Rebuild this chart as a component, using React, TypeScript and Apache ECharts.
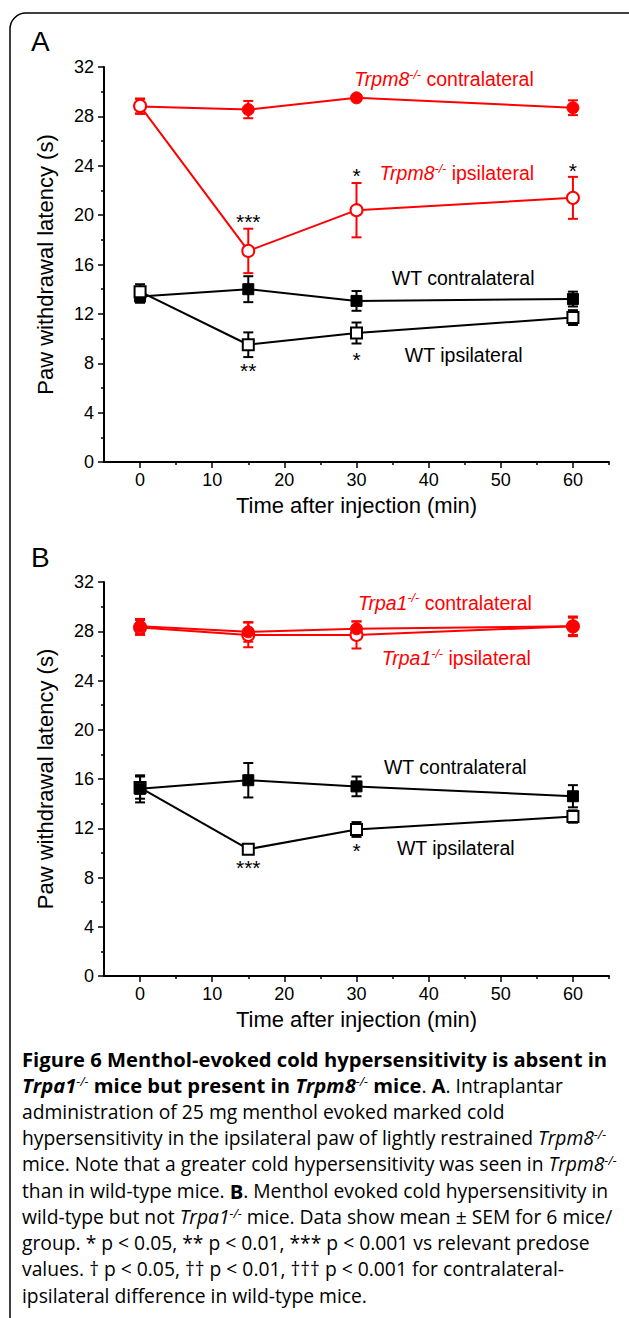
import React, { useEffect, useRef } from "react";
import * as echarts from "echarts";

// ---------- data ----------
const timePoints = [0, 15, 30, 60];

// Panel A (Trpm8-/- vs WT)
const aTrpm8Contra = [28.8, 28.55, 29.5, 28.7];
const aTrpm8ContraErr = [0.6, 0.7, 0.2, 0.6];
const aTrpm8Ipsi = [28.85, 17.1, 20.4, 21.4];
const aTrpm8IpsiErr = [0.6, 1.8, 2.2, 1.7];
const aWtContra = [13.4, 14.0, 13.05, 13.2];
const aWtContraErr = [0.5, 1.05, 0.8, 0.6];
const aWtIpsi = [13.8, 9.5, 10.45, 11.7];
const aWtIpsiErr = [0.6, 1.0, 0.85, 0.6];

// Panel B (Trpa1-/- vs WT)
const bTrpa1Contra = [28.4, 27.95, 28.2, 28.4];
const bTrpa1ContraErr = [0.6, 0.8, 0.6, 0.8];
const bTrpa1Ipsi = [28.3, 27.7, 27.7, 28.4];
const bTrpa1IpsiErr = [0.6, 1.0, 1.1, 0.7];
const bWtContra = [15.2, 15.9, 15.4, 14.6];
const bWtContraErr = [1.1, 1.4, 0.8, 0.9];
const bWtIpsi = [15.3, 10.3, 11.9, 12.95];
const bWtIpsiErr = [0.9, 0.3, 0.6, 0.5];

// axis ticks
const xMajorTicks = [0, 10, 20, 30, 40, 50, 60];
const xMinorTicks = [5, 15, 25, 35, 45, 55, 65];
const yTickLabels = [0, 4, 8, 12, 16, 20, 24, 28, 32];

// significance marks [time, value, text]
const aStars: [number, number, string][] = [
  [15, 19.5, "***"],
  [30, 23.2, "*"],
  [60, 23.6, "*"],
  [15, 7.4, "**"],
  [30, 8.3, "*"],
];
const bStars: [number, number, string][] = [
  [15, 8.8, "***"],
  [30, 10.2, "*"],
];

// series labels [time, value, rich text, colourKey]
const aLabels: [number, number, string, string][] = [
  [29.7, 31.0, "{i|Trpm8}{s|-/-}{n| contralateral}", "red"],
  [33.2, 23.4, "{i|Trpm8}{s|-/-}{n| ipsilateral}", "red"],
  [34.9, 14.9, "{n|WT contralateral}", "black"],
  [36.7, 8.7, "{n|WT ipsilateral}", "black"],
];
const bLabels: [number, number, string, string][] = [
  [30.2, 30.3, "{i|Trpa1}{s|-/-}{n| contralateral}", "red"],
  [33.5, 25.8, "{i|Trpa1}{s|-/-}{n| ipsilateral}", "red"],
  [33.8, 17.0, "{n|WT contralateral}", "black"],
  [35.6, 10.4, "{n|WT ipsilateral}", "black"],
];

const captionLines = [
  "{b|Figure 6 Menthol-evoked cold hypersensitivity is absent in}",
  "{bi|Trpa1}{s|-/-}{b| mice but present in }{bi|Trpm8}{s|-/-}{b| mice}{n|. }{b|A}{n|. Intraplantar}",
  "{n|administration of 25 mg menthol evoked marked cold}",
  "{n|hypersensitivity in the ipsilateral paw of lightly restrained }{i|Trpm8}{s|-/-}",
  "{n|mice. Note that a greater cold hypersensitivity was seen in }{i|Trpm8}{s|-/-}",
  "{n|than in wild-type mice. }{b|B}{n|. Menthol evoked cold hypersensitivity in}",
  "{n|wild-type but not }{i|Trpa1}{s|-/-}{n| mice. Data show mean ± SEM for 6 mice/}",
  "{n|group. * p < 0.05, ** p < 0.01, *** p < 0.001 vs relevant predose}",
  "{n|values. † p < 0.05, †† p < 0.01, ††† p < 0.001 for contralateral-}",
  "{n|ipsilateral difference in wild-type mice.}",
];

// ---------- styles ----------
const RED = "#ff0000";
const BLACK = "#000000";
const FONT = "'Liberation Sans', Arial, sans-serif";
const CAP_FONT = "'Open Sans', 'Noto Sans', sans-serif";
const COLORS: Record<string, string> = { red: RED, black: BLACK };

const GRIDS = [
  { left: 104, top: 67, width: 505, height: 395 },
  { left: 104, top: 582, width: 505, height: 394 },
];

function pairs(vals: number[]) {
  return timePoints.map((t, i) => [t, vals[i]]);
}
function errTriples(vals: number[], errs: number[]) {
  return timePoints.map((t, i) => [t, vals[i], errs[i]]);
}

function errorSeries(gi: number, vals: number[], errs: number[], color: string) {
  return {
    type: "custom",
    xAxisIndex: gi * 2,
    yAxisIndex: gi,
    z: 1,
    clip: false,
    data: errTriples(vals, errs),
    renderItem: (params: any, api: any) => {
      const x = api.value(0);
      const y = api.value(1);
      const e = api.value(2);
      const top = api.coord([x, y + e]);
      const bot = api.coord([x, y - e]);
      const hw = 5;
      const st = { stroke: color, lineWidth: 2 };
      return {
        type: "group",
        children: [
          { type: "line", shape: { x1: top[0], y1: top[1], x2: bot[0], y2: bot[1] }, style: st },
          { type: "line", shape: { x1: top[0] - hw, y1: top[1], x2: top[0] + hw, y2: top[1] }, style: st },
          { type: "line", shape: { x1: bot[0] - hw, y1: bot[1], x2: bot[0] + hw, y2: bot[1] }, style: st },
        ],
      };
    },
  };
}

function lineSeries(gi: number, vals: number[], color: string, symbol: string, filled: boolean, z: number) {
  return {
    type: "line",
    xAxisIndex: gi * 2,
    yAxisIndex: gi,
    z,
    clip: false,
    data: pairs(vals),
    symbol,
    symbolSize: symbol === "circle" ? 12 : 11,
    showAllSymbol: true,
    lineStyle: { color, width: 2 },
    itemStyle: {
      color: filled ? color : "#ffffff",
      borderColor: color,
      borderWidth: filled ? 1 : 2,
      opacity: 1,
    },
    emphasis: { disabled: true },
  };
}

function starSeries(gi: number, stars: [number, number, string][]) {
  return {
    type: "custom",
    xAxisIndex: gi * 2,
    yAxisIndex: gi,
    z: 5,
    clip: false,
    data: stars.map((s) => [s[0], s[1]]),
    renderItem: (params: any, api: any) => {
      const p = api.coord([api.value(0), api.value(1)]);
      return {
        type: "text",
        x: p[0],
        y: p[1],
        style: {
          text: stars[params.dataIndex][2],
          fill: BLACK,
          fontSize: 21,
          fontFamily: FONT,
          align: "center",
          verticalAlign: "middle",
        },
      };
    },
  };
}

function labelSeries(gi: number, labels: [number, number, string, string][]) {
  return {
    type: "custom",
    xAxisIndex: gi * 2,
    yAxisIndex: gi,
    z: 5,
    clip: false,
    data: labels.map((l) => [l[0], l[1]]),
    renderItem: (params: any, api: any) => {
      const p = api.coord([api.value(0), api.value(1)]);
      const lab = labels[params.dataIndex];
      const c = COLORS[lab[3]];
      return {
        type: "text",
        x: p[0],
        y: p[1],
        style: {
          text: lab[2],
          fill: c,
          fontSize: 19.5,
          fontFamily: FONT,
          align: "left",
          verticalAlign: "middle",
          rich: {
            i: { fontStyle: "italic", fontSize: 19.5, fontFamily: FONT, fill: c, lineHeight: 22 },
            s: { fontStyle: "italic", fontSize: 12.5, fontFamily: FONT, fill: c, verticalAlign: "top", lineHeight: 12 },
            n: { fontSize: 19.5, fontFamily: FONT, fill: c, lineHeight: 22 },
          },
        },
      };
    },
  };
}

function xAxes(gi: number) {
  return [
    {
      type: "value",
      gridIndex: gi,
      min: -5,
      max: 65,
      interval: 5,
      name: "Time after injection (min)",
      nameLocation: "middle",
      nameGap: 32,
      nameTextStyle: { fontSize: 22, color: BLACK, fontFamily: FONT },
      axisLine: { show: true, onZero: false, lineStyle: { color: BLACK, width: 2 } },
      axisTick: { show: true, customValues: xMajorTicks, length: 6, lineStyle: { color: BLACK, width: 1.5 } },
      axisLabel: {
        customValues: xMajorTicks,
        fontSize: 18,
        color: BLACK,
        fontFamily: FONT,
        margin: 9,
      },
      splitLine: { show: false },
    },
    {
      type: "value",
      gridIndex: gi,
      min: -5,
      max: 65,
      interval: 5,
      position: "bottom",
      axisLine: { show: false, onZero: false },
      axisTick: { show: true, customValues: xMinorTicks, length: 3, lineStyle: { color: BLACK, width: 1.5 } },
      axisLabel: { show: false },
      splitLine: { show: false },
    },
  ];
}

function yAxis(gi: number) {
  return {
    type: "value",
    gridIndex: gi,
    min: 0,
    max: 32,
    interval: 4,
    name: "Paw withdrawal latency (s)",
    nameLocation: "middle",
    nameGap: 48,
    nameTextStyle: { fontSize: 22, color: BLACK, fontFamily: FONT },
    axisLine: { show: true, onZero: false, lineStyle: { color: BLACK, width: 2 } },
    axisTick: { show: true, length: 6, lineStyle: { color: BLACK, width: 1.5 } },
    minorTick: { show: true, splitNumber: 2, length: 3, lineStyle: { color: BLACK, width: 1.5 } },
    axisLabel: {
      fontSize: 18,
      color: BLACK,
      fontFamily: FONT,
      margin: 10,
      formatter: (v: number) => (yTickLabels.indexOf(v) >= 0 ? String(v) : ""),
    },
    splitLine: { show: false },
    minorSplitLine: { show: false },
  };
}

function buildOption() {
  const CS = 19.3;
  const BS = 20.2;
  const capRich = {
    b: { fontWeight: "bold", fontSize: BS, fontFamily: CAP_FONT, fill: BLACK },
    bi: { fontWeight: "bold", fontStyle: "italic", fontSize: BS, fontFamily: CAP_FONT, fill: BLACK },
    i: { fontStyle: "italic", fontSize: CS, fontFamily: CAP_FONT, fill: BLACK },
    n: { fontSize: CS, fontFamily: CAP_FONT, fill: BLACK },
    s: { fontStyle: "italic", fontSize: 12.5, fontFamily: CAP_FONT, fill: BLACK, verticalAlign: "top" },
  };
  const caption = captionLines.map((t, i) => ({
    type: "text",
    left: 22,
    top: 1049 + i * 26.3,
    style: { text: t, rich: capRich, fontSize: CS, fontFamily: CAP_FONT, fill: BLACK },
  }));

  return {
    animation: false,
    backgroundColor: "#ffffff",
    grid: GRIDS.map((g) => ({ ...g, containLabel: false })),
    xAxis: [...xAxes(0), ...xAxes(1)],
    yAxis: [yAxis(0), yAxis(1)],
    graphic: [
      {
        type: "rect",
        shape: { x: 10, y: 13, width: 700, height: 1400, r: 16 },
        style: { fill: "none", stroke: BLACK, lineWidth: 1.5 },
        silent: true,
      },
      {
        type: "text",
        left: 31,
        top: 27,
        style: { text: "A", fontSize: 28, fontFamily: FONT, fill: BLACK },
      },
      {
        type: "text",
        left: 31,
        top: 543,
        style: { text: "B", fontSize: 28, fontFamily: FONT, fill: BLACK },
      },
      ...caption,
    ],
    series: [
      // panel A
      errorSeries(0, aWtContra, aWtContraErr, BLACK),
      errorSeries(0, aWtIpsi, aWtIpsiErr, BLACK),
      errorSeries(0, aTrpm8Contra, aTrpm8ContraErr, RED),
      errorSeries(0, aTrpm8Ipsi, aTrpm8IpsiErr, RED),
      lineSeries(0, aWtContra, BLACK, "rect", true, 2),
      lineSeries(0, aWtIpsi, BLACK, "rect", false, 2),
      lineSeries(0, aTrpm8Contra, RED, "circle", true, 3),
      lineSeries(0, aTrpm8Ipsi, RED, "circle", false, 3),
      starSeries(0, aStars),
      labelSeries(0, aLabels),
      // panel B
      errorSeries(1, bWtIpsi, bWtIpsiErr, BLACK),
      errorSeries(1, bWtContra, bWtContraErr, BLACK),
      errorSeries(1, bTrpa1Ipsi, bTrpa1IpsiErr, RED),
      errorSeries(1, bTrpa1Contra, bTrpa1ContraErr, RED),
      lineSeries(1, bWtIpsi, BLACK, "rect", false, 2),
      lineSeries(1, bWtContra, BLACK, "rect", true, 2),
      lineSeries(1, bTrpa1Ipsi, RED, "circle", false, 3),
      lineSeries(1, bTrpa1Contra, RED, "circle", true, 3),
      starSeries(1, bStars),
      labelSeries(1, bLabels),
    ],
  };
}

export default function App() {
  const ref = useRef<HTMLDivElement>(null);
  useEffect(() => {
    document.body.style.margin = "0";
    if (!ref.current) return;
    const chart = echarts.init(ref.current, undefined, { renderer: "svg" });
    chart.setOption(buildOption() as any);
    return () => chart.dispose();
  }, []);
  return (
    <div
      ref={ref}
      style={{ position: "absolute", left: 0, top: 0, width: 629, height: 1318, background: "#fff" }}
    />
  );
}
